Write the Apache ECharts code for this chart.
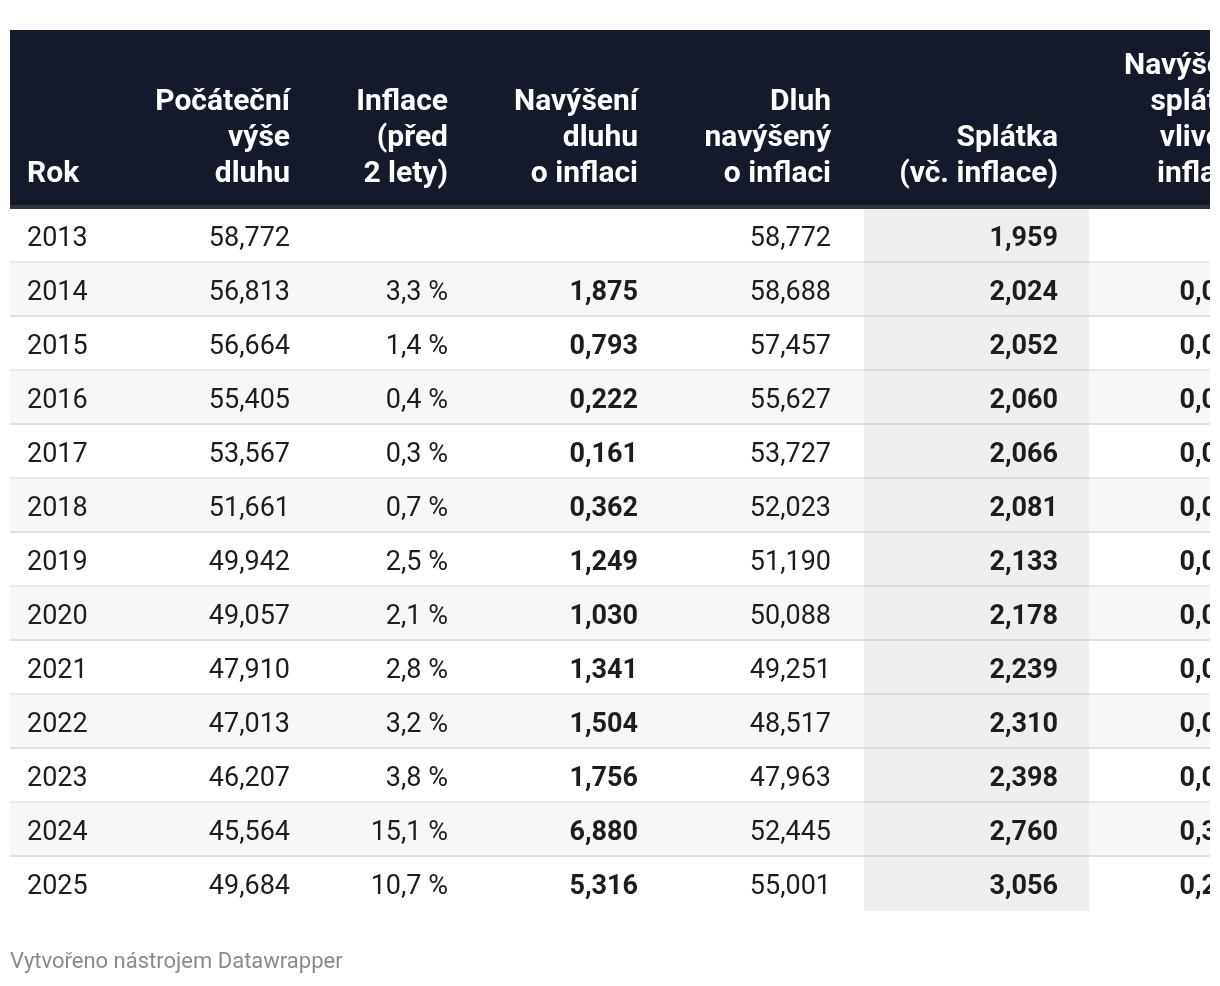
<!DOCTYPE html>
<html>
<head>
<meta charset="utf-8">
<script src="https://cdn.jsdelivr.net/npm/echarts@6/dist/echarts.min.js"></script>
<style>
  html, body { margin: 0; padding: 0; background: #ffffff; }
  #chart { position: absolute; left: 0; top: 0; width: 1210px; height: 986px; }
</style>
</head>
<body>
<div id="chart"></div>
<script>
// ---------- data ----------
const years = ['2013','2014','2015','2016','2017','2018','2019','2020','2021','2022','2023','2024','2025'];
const initialDebt = [58.772, 56.813, 56.664, 55.405, 53.567, 51.661, 49.942, 49.057, 47.910, 47.013, 46.207, 45.564, 49.684];
const inflation = [null, 3.3, 1.4, 0.4, 0.3, 0.7, 2.5, 2.1, 2.8, 3.2, 3.8, 15.1, 10.7];
const debtIncrease = [null, 1.875, 0.793, 0.222, 0.161, 0.362, 1.249, 1.030, 1.341, 1.504, 1.756, 6.880, 5.316];
const adjustedDebt = [58.772, 58.688, 57.457, 55.627, 53.727, 52.023, 51.190, 50.088, 49.251, 48.517, 47.963, 52.445, 55.001];
const payment = [1.959, 2.024, 2.052, 2.060, 2.066, 2.081, 2.133, 2.178, 2.239, 2.310, 2.398, 2.760, 3.056];
// last column is cut off in the picture: only the leading "0,0" / "0,3" / "0,2" are visible; rest estimated
const paymentIncrease = [null, 0.065, 0.028, 0.008, 0.006, 0.014, 0.052, 0.045, 0.061, 0.072, 0.088, 0.362, 0.295];
const headers = [
  'Rok',
  'Počáteční\nvýše\ndluhu',
  'Inflace\n(před\n2 lety)',
  'Navýšení\ndluhu\no inflaci',
  'Dluh\nnavýšený\no inflaci',
  'Splátka\n(vč. inflace)',
  'Navýšení\nsplátky\nvlivem\ninflace'
];
const footer = 'Vytvořeno nástrojem Datawrapper';

// ---------- layout / style (not data) ----------
const FONT = 'Roboto';
const FS = 27;
const HFS = 30;
const TEXT = '#1d1d1d';
const colX = [17, 280, 438, 628, 821, 1048, 1238];      // cell text anchor in grid units (px)
const headX = [17, 280, 438, 628, 821, 1048, 1238];     // header text anchor
const colAlign = ['left','right','right','right','right','right','right'];
const colBold = [false, false, false, true, false, true, true];
const shadeCol = [854, 1079];                            // Splátka column shading
const HEADER_H = 175, HEADER_BORDER = 4;

function num3(v) { return v == null ? '' : v.toFixed(3).replace('.', ','); }
function pct(v) { return v == null ? '' : v.toFixed(1).replace('.', ',') + ' %'; }

const rowData = years.map((y, i) => [i, y, num3(initialDebt[i]), pct(inflation[i]), num3(debtIncrease[i]), num3(adjustedDebt[i]), num3(payment[i]), num3(paymentIncrease[i])]);

function renderRow(params, api) {
  const r = api.value(0);
  const c = api.coord([0, r]);
  const band = api.size([0, 1])[1];
  const x0 = api.coord([0, r])[0];
  const x1 = api.coord([1200, r])[0];
  const top = c[1] - band / 2;
  const children = [];
  children.push({ type: 'rect', shape: { x: x0, y: top, width: x1 - x0, height: band },
    style: { fill: r % 2 === 1 ? '#f7f7f7' : '#ffffff' } });
  const s0 = api.coord([shadeCol[0], r])[0], s1 = api.coord([shadeCol[1], r])[0];
  children.push({ type: 'rect', shape: { x: s0, y: top, width: s1 - s0, height: band },
    style: { fill: '#efefef' } });
  if (r < years.length - 1) {
    children.push({ type: 'rect', shape: { x: x0, y: top + band - 2, width: x1 - x0, height: 2 },
      style: { fill: 'rgba(0,0,0,0.085)' } });
  }
  for (let k = 0; k < colX.length; k++) {
    const t = rowData[r][k + 1];
    if (!t) continue;
    children.push({ type: 'text', style: {
      text: t, x: api.coord([colX[k], r])[0], y: c[1] + 3,
      align: colAlign[k], verticalAlign: 'middle',
      fontFamily: FONT, fontSize: FS, fontWeight: colBold[k] ? 'bold' : 'normal', fill: TEXT } });
  }
  return { type: 'group', children };
}

function renderHeader(params, api) {
  const band = api.size([0, 1])[1];
  const gridTop = api.coord([0, 0])[1] - band / 2;
  const x0 = api.coord([0, 0])[0];
  const x1 = api.coord([1200, 0])[0];
  const children = [
    { type: 'rect', shape: { x: x0, y: gridTop - HEADER_H - HEADER_BORDER, width: x1 - x0, height: HEADER_H },
      style: { fill: '#141a29' } },
    { type: 'rect', shape: { x: x0, y: gridTop - HEADER_BORDER, width: x1 - x0, height: HEADER_BORDER },
      style: { fill: '#333333' } }
  ];
  for (let k = 0; k < headers.length; k++) {
    children.push({ type: 'text', style: {
      text: headers[k], x: api.coord([headX[k], 0])[0], y: gridTop - HEADER_BORDER - 13,
      align: colAlign[k], verticalAlign: 'bottom', lineHeight: 36,
      fontFamily: FONT, fontSize: HFS, fontWeight: 'bold', fill: '#ffffff' } });
  }
  return { type: 'group', children };
}

const chart = echarts.init(document.getElementById('chart'), null, { renderer: 'canvas' });
chart.setOption({
  backgroundColor: '#ffffff',
  animation: false,
  title: {
    text: footer, left: 10, top: 949, padding: 0,
    textStyle: { fontFamily: FONT, fontSize: 22, fontWeight: 'normal', color: '#8a8a8a', lineHeight: 26 }
  },
  grid: { left: 10, right: 0, top: 209, height: 702 },
  xAxis: { type: 'value', min: 0, max: 1200, show: false },
  yAxis: { type: 'category', data: years, inverse: true, show: false },
  series: [
    { type: 'custom', name: 'rows', renderItem: renderRow, data: rowData, clip: false, silent: true },
    { type: 'custom', name: 'header', renderItem: renderHeader, data: [[0, 0]], clip: false, silent: true }
  ]
});
</script>
</body>
</html>
